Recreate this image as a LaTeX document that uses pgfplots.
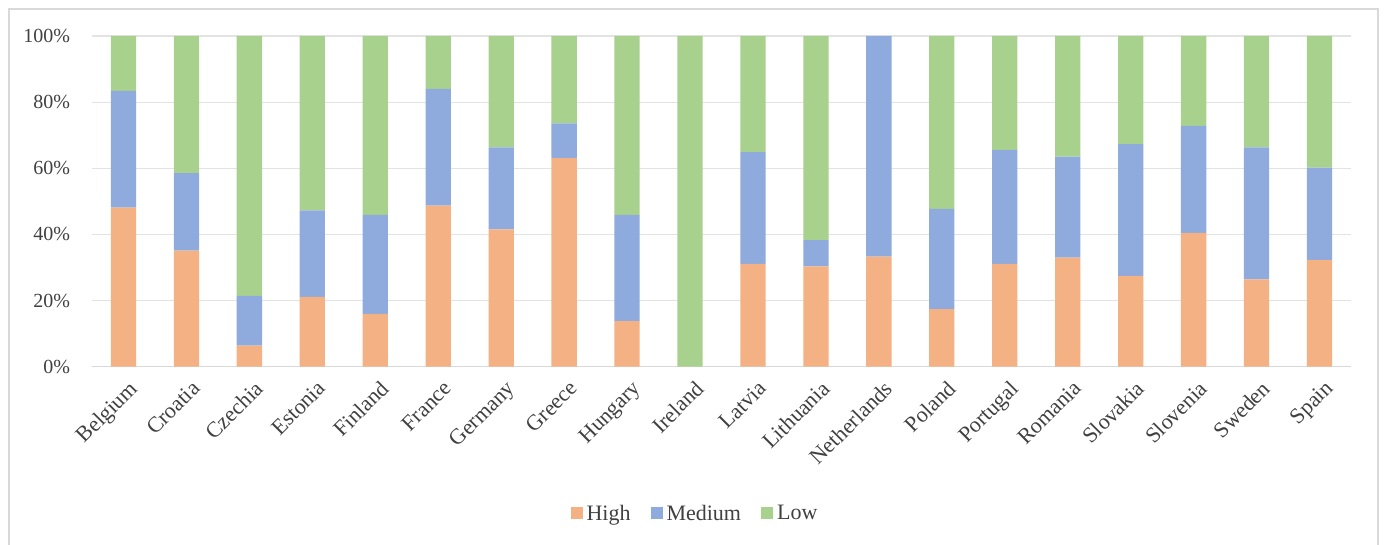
\documentclass[border=0pt]{standalone}
\usepackage{fontspec}
\setmainfont{Liberation Serif}
\usepackage{pgfplots}
\pgfplotsset{compat=1.18}
\definecolor{cHigh}{HTML}{F4B183}
\definecolor{cMed}{HTML}{8FAADC}
\definecolor{cLow}{HTML}{A9D18E}
\definecolor{cText}{HTML}{404040}
\definecolor{cGrid}{HTML}{E3E3E3}
\definecolor{cFrame}{HTML}{D9D9D9}
\begin{document}
\begin{tikzpicture}[x=1pt,y=1pt]
\useasboundingbox (0,0) rectangle (692,272.5);
\draw[cFrame,line width=0.8pt] (4.5,-2) -- (4.5,268) -- (689,268) -- (689,-2);
\begin{axis}[
  at={(46pt,89.15pt)}, anchor=south west,
  scale only axis, width=629.5pt, height=165.35pt,
  ybar stacked, bar width=12.65pt,
  xmin=-0.5, xmax=19.5, ymin=0, ymax=100,
  xtick={0,...,19},
  xticklabels={Belgium,Croatia,Czechia,Estonia,Finland,France,Germany,Greece,Hungary,Ireland,Latvia,Lithuania,Netherlands,Poland,Portugal,Romania,Slovakia,Slovenia,Sweden,Spain},
  ytick={0,20,40,60,80,100},
  yticklabel={\pgfmathprintnumber{\tick}\%},
  /pgf/number format/assume math mode=true,
  major tick length=0pt,
  ymajorgrids, grid style={cGrid, line width=0.6pt},
  axis x line*=bottom, axis y line*=left,
  y axis line style={draw=none},
  x axis line style={cFrame, line width=0.8pt},
  tick label style={text=cText},
  yticklabel style={xshift=-7.5pt, font=\fontsize{10}{12}\selectfont},
  xticklabel style={rotate=45, anchor=north east, yshift=-2.5pt, xshift=0.5pt, font=\fontsize{11}{13}\selectfont},
  legend style={at={(0.4797,-0.4454)}, anchor=center, draw=none, fill=none,
    legend columns=3, font=\fontsize{11}{13}\selectfont, text=cText,
    /tikz/every even column/.append style={column sep=8pt}},
  legend image code/.code={\fill[#1] (0pt,-2.5pt) rectangle (6pt,3.5pt);},
  every axis plot/.append style={draw=none},
]
\addplot[fill=cHigh] coordinates {(0,48.1) (1,35.1) (2,6.4) (3,21.1) (4,16.0) (5,48.7) (6,41.5) (7,63.1) (8,13.8) (9,0) (10,31.1) (11,30.3) (12,33.3) (13,17.4) (14,31.1) (15,33.0) (16,27.5) (17,40.5) (18,26.4) (19,32.3)};
\addplot[fill=cMed] coordinates {(0,35.3) (1,23.4) (2,15.0) (3,26.2) (4,29.9) (5,35.3) (6,24.8) (7,10.5) (8,32.1) (9,0) (10,33.8) (11,8.0) (12,66.7) (13,30.3) (14,34.5) (15,30.5) (16,39.8) (17,32.3) (18,39.9) (19,27.9)};
\addplot[fill=cLow] coordinates {(0,16.6) (1,41.5) (2,78.6) (3,52.7) (4,54.1) (5,16.0) (6,33.7) (7,26.4) (8,54.1) (9,100) (10,35.1) (11,61.7) (12,0) (13,52.3) (14,34.4) (15,36.5) (16,32.7) (17,27.2) (18,33.7) (19,39.8)};
\legend{High,Medium,Low}
\end{axis}
\end{tikzpicture}
\end{document}
